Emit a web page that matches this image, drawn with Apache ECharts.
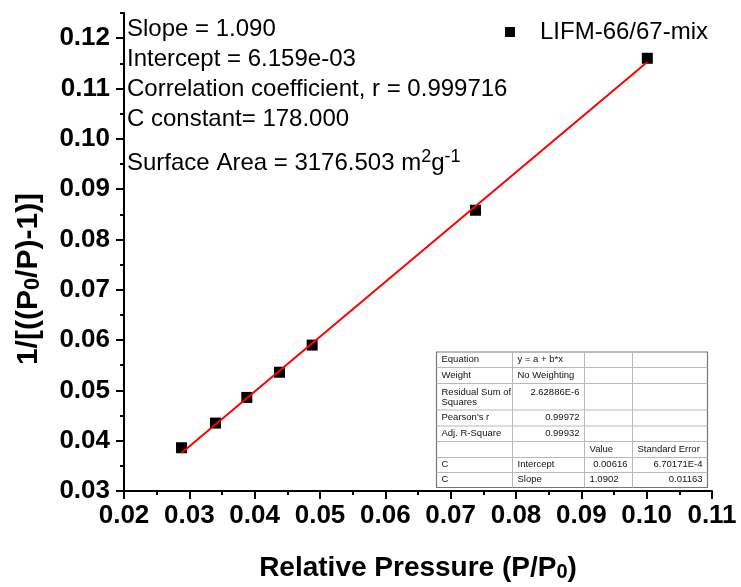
<!DOCTYPE html>
<html>
<head>
<meta charset="utf-8">
<script src="https://cdn.jsdelivr.net/npm/echarts@6/dist/echarts.min.js"></script>
<style>
  html, body { margin: 0; padding: 0; background: #fff; }
  #chart { width: 741px; height: 587px; }
</style>
</head>
<body>
<div id="chart"></div>
<script>
// BET plot data: relative pressure vs 1/[((P0/P)-1)]
const pressure = [0.0288, 0.0340, 0.0388, 0.0438, 0.0488, 0.0738, 0.1001];
const betValue = [0.0386, 0.0435, 0.0486, 0.0536, 0.0590, 0.0858, 0.1160];
const seriesName = 'LIFM-66/67-mix';

// Linear fit reported in the annotation
const fitSlope = 1.090;
const fitIntercept = 6.159e-3;
const fitRange = [0.0288, 0.1001];

// Axis ticks
const xTicks = [0.02, 0.03, 0.04, 0.05, 0.06, 0.07, 0.08, 0.09, 0.10, 0.11];
const yTicks = [0.03, 0.04, 0.05, 0.06, 0.07, 0.08, 0.09, 0.10, 0.11, 0.12];

// Annotation lines
const annotationLines = [
  'Slope = 1.090',
  'Intercept = 6.159e-03',
  'Correlation coefficient, r = 0.999716',
  'C constant= 178.000'
];
const surfaceArea = '3176.503';

// Fit report table
const tableRows = [
  ['Equation', 'y = a + b*x', '', ''],
  ['Weight', 'No Weighting', '', ''],
  ['Residual Sum of\nSquares', '2.62886E-6', '', ''],
  ["Pearson's r", '0.99972', '', ''],
  ['Adj. R-Square', '0.99932', '', ''],
  ['', '', 'Value', 'Standard Error'],
  ['C', 'Intercept', '0.00616', '6.70171E-4'],
  ['C', 'Slope', '1.0902', '0.01163']
];

const FONT = '"Liberation Sans", Arial, Helvetica, sans-serif';

const fitLine = fitRange.map(x => [x, fitIntercept + fitSlope * x]);
const points = pressure.map((x, i) => [x, betValue[i]]);

// ---- table graphic ----
function buildTable() {
  const colX = [436.5, 512.5, 584.5, 632.5, 707.5];
  const rowY = [352, 367.5, 383.5, 410, 426, 441.5, 457.5, 472.5, 487.5];
  const children = [];
  children.push({
    type: 'rect',
    shape: { x: colX[0], y: rowY[0], width: colX[4] - colX[0], height: rowY[8] - rowY[0] },
    style: { fill: '#fff', stroke: '#777', lineWidth: 1.2 },
    z: 100
  });
  for (let i = 1; i < rowY.length - 1; i++) {
    children.push({
      type: 'line',
      shape: { x1: colX[0], y1: rowY[i], x2: colX[4], y2: rowY[i] },
      style: { stroke: '#b8b8b8', lineWidth: 1 },
      z: 101
    });
  }
  for (let j = 1; j < colX.length - 1; j++) {
    children.push({
      type: 'line',
      shape: { x1: colX[j], y1: rowY[0], x2: colX[j], y2: rowY[8] },
      style: { stroke: '#b8b8b8', lineWidth: 1 },
      z: 101
    });
  }
  // numeric cells are right aligned, text cells left aligned
  const isNum = s => /^[0-9.\-]+(E-?\d+)?$/.test(s);
  tableRows.forEach((row, r) => {
    const top = rowY[r];
    const bottom = rowY[r + 1];
    row.forEach((cell, c) => {
      if (!cell) return;
      const right = isNum(cell);
      const topAligned = r === 2;
      let cx = right ? colX[c + 1] - 5 : colX[c] + 5;
      if (r === 7 && c === 2) cx = colX[c + 1] - 14;
      children.push({
        type: 'text',
        x: cx,
        y: topAligned ? top + 4 : (top + bottom) / 2 - 0.5,
        style: {
          text: cell,
          fontSize: 9.5,
          fontFamily: FONT,
          fill: '#111',
          align: right ? 'right' : 'left',
          verticalAlign: topAligned ? 'top' : 'middle',
          lineHeight: 10
        },
        z: 102
      });
    });
  });
  return children;
}

// ---- annotation graphic ----
const annoY = [29, 59, 89, 119];
const annotation = annotationLines.map((t, i) => ({
  type: 'text',
  x: 127,
  y: annoY[i],
  style: {
    text: t,
    fontSize: 24,
    fontFamily: FONT,
    fill: '#000',
    align: 'left',
    verticalAlign: 'middle'
  },
  z: 50
}));
annotation.push({
  type: 'text',
  x: 127,
  y: 163.5,
  style: {
    text: '{b|Surface Area = ' + surfaceArea + ' m}{s|2}{b|g}{s|-1}',
    align: 'left',
    verticalAlign: 'middle',
    rich: {
      b: { fontSize: 24, fontFamily: FONT, fill: '#000', lineHeight: 30, verticalAlign: 'middle' },
      s: { fontSize: 18, fontFamily: FONT, fill: '#000', lineHeight: 5, verticalAlign: 'top' }
    }
  },
  z: 50
});

const chart = echarts.init(document.getElementById('chart'), null, { renderer: 'canvas' });

const axisLineStyle = { color: '#000', width: 2 };
const tickLabel = {
  color: '#000',
  fontSize: 26,
  fontWeight: 'bold',
  fontFamily: FONT
};
const nameRich = (size) => ({
  b: { fontSize: size, fontWeight: 'bold', fontFamily: FONT, color: '#000', lineHeight: size, verticalAlign: 'middle' },
  s: { fontSize: Math.round(size * 0.72), fontWeight: 'bold', fontFamily: FONT, color: '#000', lineHeight: 2, verticalAlign: 'bottom' }
});

chart.setOption({
  animation: false,
  backgroundColor: '#fff',
  grid: { left: 124, right: 29, top: 13, bottom: 96 },
  legend: {
    data: [seriesName],
    left: 500,
    top: 15,
    icon: 'rect',
    itemWidth: 10,
    itemHeight: 10,
    itemStyle: { color: '#000', opacity: 1 },
    textStyle: { color: '#000', fontSize: 24, fontFamily: FONT, padding: [0, 0, 0, 20] }
  },
  xAxis: {
    type: 'value',
    min: 0.02,
    max: 0.11,
    interval: 0.01,
    name: '{b|Relative Pressure (P/P}{s|0}{b|)}',
    nameLocation: 'middle',
    nameGap: 63,
    nameTextStyle: { rich: nameRich(28) },
    axisLine: { lineStyle: axisLineStyle },
    axisTick: { show: true, inside: false, length: 8, lineStyle: { color: '#000', width: 2 } },
    minorTick: { show: true, splitNumber: 2, length: 4, lineStyle: { color: '#000', width: 2 } },
    axisLabel: Object.assign({}, tickLabel, {
      margin: 12,
      customValues: xTicks,
      formatter: v => v.toFixed(2)
    }),
    splitLine: { show: false },
    minorSplitLine: { show: false }
  },
  yAxis: [
    {
      type: 'value',
      min: 0.03,
      max: 0.125,
      interval: 0.005,
      name: '{b|1/[((P}{s|0}{b|/P)-1)]}',
      nameLocation: 'middle',
      nameRotate: 90,
      nameGap: 80,
      nameTextStyle: { rich: nameRich(30), padding: [0, 54, 0, 0] },
      axisLine: { show: true, lineStyle: axisLineStyle },
      axisTick: { show: true, inside: false, length: 4, lineStyle: { color: '#000', width: 2 } },
      axisLabel: Object.assign({}, tickLabel, {
        margin: 14,
        customValues: yTicks,
        formatter: v => v.toFixed(2)
      }),
      splitLine: { show: false }
    },
    {
      type: 'value',
      min: 0.03,
      max: 0.125,
      position: 'left',
      offset: 0,
      axisLine: { show: false },
      axisTick: { show: true, inside: false, length: 8, customValues: yTicks, lineStyle: { color: '#000', width: 2 } },
      axisLabel: { show: false },
      splitLine: { show: false }
    }
  ],
  series: [
    {
      name: seriesName,
      type: 'scatter',
      data: points,
      symbol: 'rect',
      symbolSize: 11,
      itemStyle: { color: '#000', opacity: 1 },
      z: 3
    },
    {
      name: 'fit',
      type: 'line',
      data: fitLine,
      symbol: 'none',
      lineStyle: { color: '#ff0000', width: 2 },
      z: 4
    }
  ],
  graphic: annotation.concat(buildTable())
});
</script>
</body>
</html>
